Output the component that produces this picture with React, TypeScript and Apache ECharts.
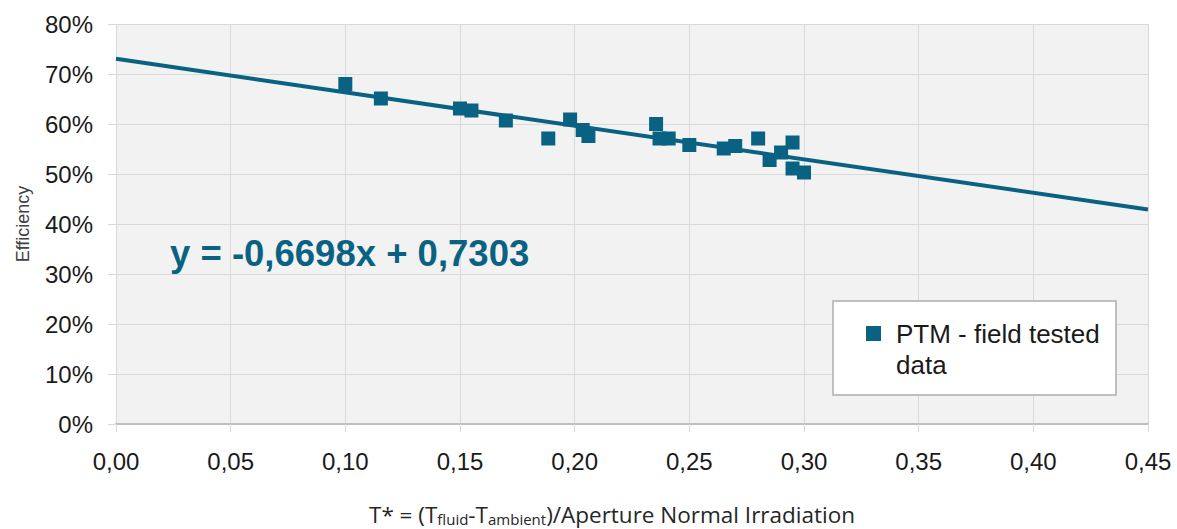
import React, { useEffect, useRef } from "react";
import * as echarts from "echarts";

const xTicks = [0, 0.05, 0.1, 0.15, 0.2, 0.25, 0.3, 0.35, 0.4, 0.45];
const yTicks = [0, 0.1, 0.2, 0.3, 0.4, 0.5, 0.6, 0.7, 0.8];
const fieldX = [0.100, 0.1155, 0.150, 0.155, 0.170, 0.1885, 0.198, 0.2035, 0.206, 0.2355, 0.237, 0.241, 0.250, 0.265, 0.270, 0.280, 0.285, 0.290, 0.295, 0.295, 0.300];
const fieldY = [0.680, 0.651, 0.631, 0.627, 0.607, 0.571, 0.609, 0.588, 0.576, 0.600, 0.571, 0.571, 0.558, 0.551, 0.556, 0.571, 0.528, 0.543, 0.563, 0.511, 0.503];
const slope = -0.6698;
const intercept = 0.7303;
const trendX = [0, 0.45];
const seriesName = "PTM - field tested data";
const equationText = "y = -0,6698x + 0,7303";

const COLOR = "#0a6283";
const FONT = "Liberation Sans, Arial, sans-serif";

export default function App() {
  const ref = useRef<HTMLDivElement>(null);
  useEffect(() => {
    if (!ref.current) return;
    document.body.style.margin = "0";
    document.body.style.overflow = "hidden";
    const chart = echarts.init(ref.current, null, { renderer: "svg" });
    const points = fieldX.map((x, i) => [x, fieldY[i]]);
    const trend = trendX.map((x) => [x, slope * x + intercept]);
    chart.setOption({
      animation: false,
      textStyle: { fontFamily: FONT },
      grid: {
        left: 116,
        right: 29,
        top: 24,
        bottom: 105,
        show: true,
        backgroundColor: "#f2f2f2",
        borderWidth: 0,
        containLabel: false,
        outerBoundsMode: "none",
      },
      xAxis: {
        type: "value",
        min: xTicks[0],
        max: xTicks[xTicks.length - 1],
        interval: 0.05,
        axisLine: { show: true, lineStyle: { color: "#bfbfbf", width: 2 } },
        axisTick: { show: true, length: 8, lineStyle: { color: "#d9d9d9" } },
        splitLine: { show: true, lineStyle: { color: "#d9d9d9", width: 1 } },
        axisLabel: {
          margin: 25,
          fontSize: 24,
          color: "#1a1a1a",
          fontFamily: FONT,
          formatter: (v: number) => v.toFixed(2).replace(".", ","),
        },
        name:
          "{a|T* = (T}{s|fluid}{a|-T}{s|ambient}{a|)/Aperture Normal Irradiation}",
        nameLocation: "middle",
        nameGap: 76,
        nameTextStyle: {
          padding: [0, 40, 0, 0],
          rich: {
            a: { fontSize: 22.5, fontFamily: "Open Sans", color: "#262626", verticalAlign: "bottom", lineHeight: 26 },
            s: { fontSize: 15, fontFamily: "Open Sans", color: "#262626", verticalAlign: "bottom", lineHeight: 16 },
          },
        },
      },
      yAxis: {
        type: "value",
        min: yTicks[0],
        max: yTicks[yTicks.length - 1],
        interval: 0.1,
        axisLine: { show: false },
        axisTick: { show: true, length: 8, lineStyle: { color: "#d9d9d9" } },
        splitLine: { show: true, lineStyle: { color: "#d9d9d9", width: 1 } },
        axisLabel: {
          margin: 23,
          fontSize: 24,
          color: "#1a1a1a",
          fontFamily: FONT,
          formatter: (v: number) => Math.round(v * 100) + "%",
        },
        name: "Efficiency",
        nameLocation: "middle",
        nameGap: 84,
        nameRotate: 90,
        nameTextStyle: { fontSize: 18, color: "#404040", fontFamily: FONT },
      },
      legend: {
        show: true,
        data: [{ name: seriesName, icon: "rect" }],
        left: 866,
        top: 287,
        padding: 0,
        itemWidth: 15,
        itemHeight: 15,
        itemGap: 0,
        formatter: () => "\nPTM - field tested\ndata",
        textStyle: {
          fontSize: 26,
          color: "#1a1a1a",
          fontFamily: FONT,
          lineHeight: 31,
          padding: [0, 0, 0, 10],
        },
        z: 10,
      },
      graphic: [
        {
          type: "rect",
          left: 832,
          top: 300,
          shape: { width: 283, height: 94 },
          style: { fill: "#ffffff", stroke: "#bfbfbf", lineWidth: 2 },
          z: 5,
        },
        {
          type: "text",
          left: 170,
          top: 235,
          style: {
            text: equationText,
            fontSize: 36.5,
            fontWeight: "bold",
            fill: COLOR,
            fontFamily: FONT,
          },
          z: 6,
        },
      ],
      series: [
        {
          type: "line",
          name: "trend",
          data: trend,
          showSymbol: false,
          symbol: "none",
          lineStyle: { color: COLOR, width: 4 },
          z: 2,
        },
        {
          type: "scatter",
          name: seriesName,
          data: points,
          symbol: "rect",
          symbolSize: 14,
          itemStyle: { color: COLOR, opacity: 1 },
          z: 3,
        },
      ],
    });
    return () => chart.dispose();
  }, []);
  return <div ref={ref} style={{ width: 1177, height: 529 }} />;
}
